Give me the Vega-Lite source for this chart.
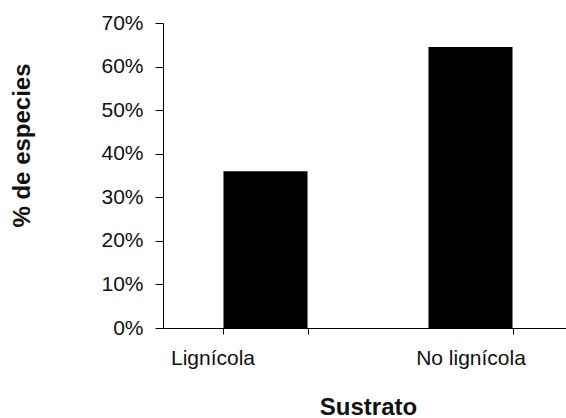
{
  "$schema": "https://vega.github.io/schema/vega-lite/v6.json",
  "autosize": "none",
  "width": 410,
  "height": 305,
  "padding": {"left": 163, "top": 23, "right": 0, "bottom": 90},
  "background": "white",
  "config": {
    "view": {"stroke": null},
    "font": "Liberation Sans",
    "axis": {"domainColor": "black", "tickColor": "black", "labelColor": "#111", "titleColor": "#111", "grid": false, "labelFont": "Liberation Sans", "titleFont": "Liberation Sans"}
  },
  "data": {"values": [
    {"Sustrato": "Lignícola", "pct": 0.36},
    {"Sustrato": "No lignícola", "pct": 0.645}
  ]},
  "mark": {"type": "bar", "color": "black"},
  "encoding": {
    "x": {
      "field": "Sustrato", "type": "nominal", "sort": null,
      "scale": {"paddingInner": 0.59, "paddingOuter": 0.295},
      "axis": {
        "title": "Sustrato", "labelAngle": 0, "labelFontSize": 21, "labelPadding": 13,
        "labelOffset": {"expr": "datum.value == 'Lignícola' ? -53 : 0"},
        "tickBand": "extent", "tickSize": 6, "domainWidth": 1,
        "titleFontSize": 24, "titleFontWeight": "bold", "titlePadding": 27,
        "titleX": 205
      }
    },
    "y": {
      "field": "pct", "type": "quantitative",
      "scale": {"domain": [0, 0.7], "nice": false},
      "axis": {
        "title": "% de especies", "format": ".0%", "values": [0, 0.1, 0.2, 0.3, 0.4, 0.5, 0.6, 0.7],
        "labelFontSize": 21, "labelPadding": 12, "tickSize": 8,
        "titleFontSize": 24, "titleFontWeight": "bold",
        "titleAngle": -90, "titleX": -141, "titleY": 122, "titleAlign": "center", "titleBaseline": "middle"
      }
    }
  }
}
